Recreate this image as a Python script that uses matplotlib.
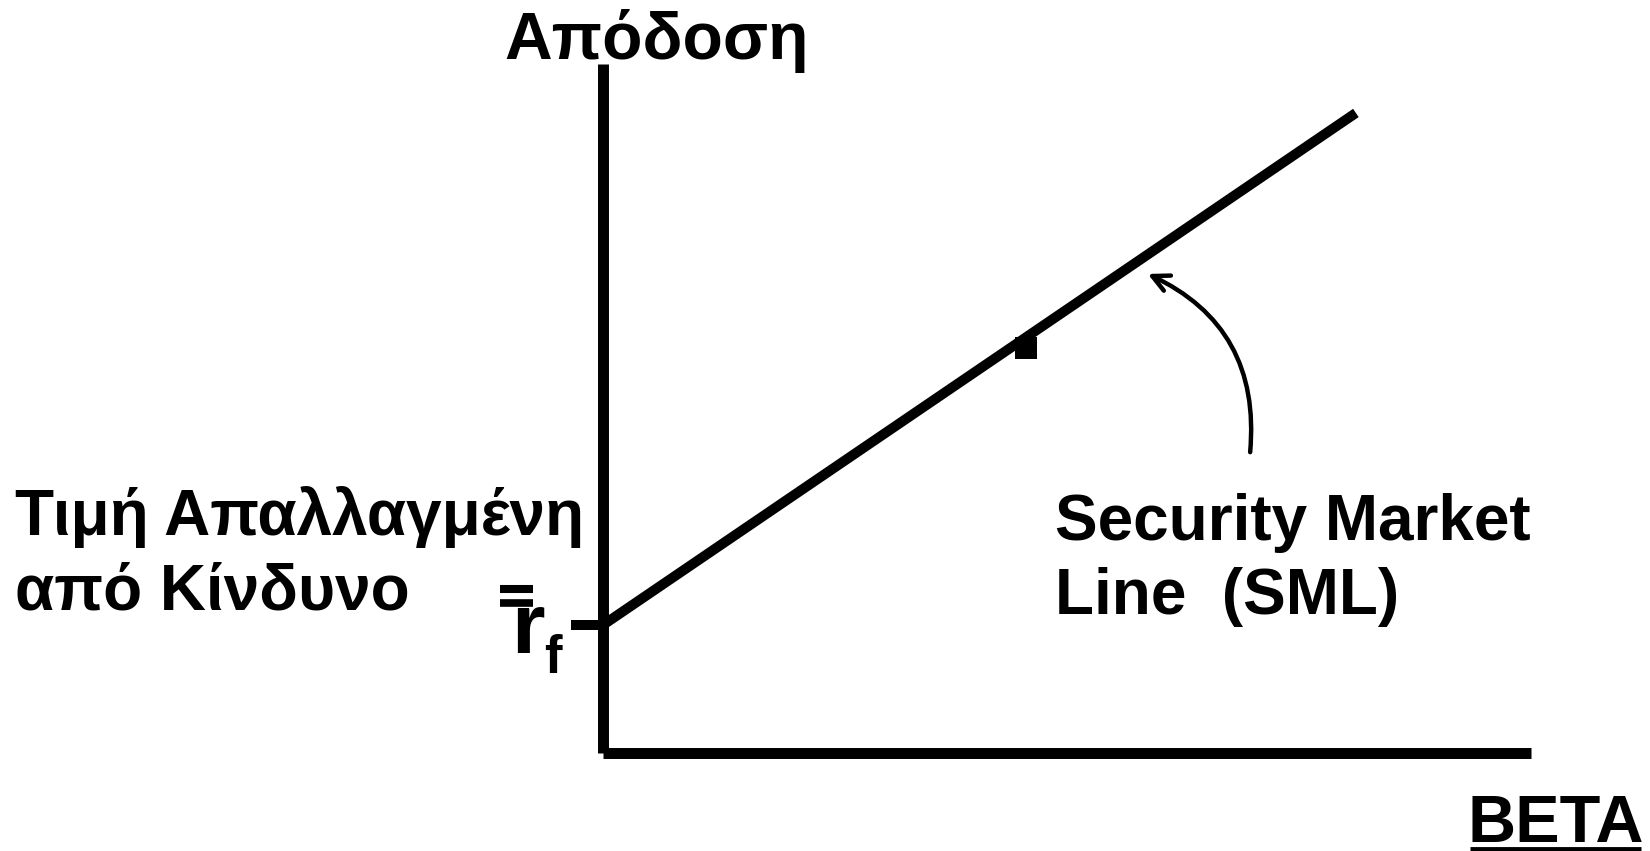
import matplotlib
matplotlib.use('Agg')
import matplotlib.pyplot as plt

plt.rcParams['font.family'] = ['Liberation Sans', 'DejaVu Sans']
plt.rcParams['font.weight'] = 'bold'

# security market line (beta, expected return in %)
sml_beta = [0.0, 1.78]
sml_return = [4.0, 20.0]
rf = 4.0
market_beta = [1.0]
market_return = [13.0]

W, H = 1650, 851
fig = plt.figure(figsize=(W / 100, H / 100), dpi=100)
ax = fig.add_axes([603 / W, 1 - 753 / H, (1531 - 603) / W, (753 - 64) / H])
ax.set_xlim(0, 2.194)
ax.set_ylim(0, 21.53)

for side in ['top', 'right']:
    ax.spines[side].set_visible(False)
for side in ['left', 'bottom']:
    ax.spines[side].set_linewidth(7.9)
    ax.spines[side].set_color('black')
    ax.spines[side].set_capstyle('butt')

ax.set_xticks([])
ax.set_yticks([rf])
ax.set_yticklabels([''])
ax.tick_params(axis='y', length=23, width=7.2, direction='out', color='black')

ax.plot(sml_beta, sml_return, color='black', lw=7.2, solid_capstyle='butt', clip_on=False, zorder=3)

# market portfolio marker, hanging under the line
sq = [(-1, 0), (1, 0), (1, -2), (-1, -2), (-1, 0)]
ax.plot(market_beta, market_return, linestyle='none', marker=sq, markersize=31,
        color='black', markeredgewidth=0, zorder=2, clip_on=False)

# arrow from label to the line
ax.annotate('', xy=(1.288, 14.97), xytext=(1.53, 9.4),
            arrowprops=dict(arrowstyle='->,head_length=0.6,head_width=0.3', lw=3.2,
                            color='black', connectionstyle='arc3,rad=0.35',
                            shrinkA=0, shrinkB=0, mutation_scale=20),
            annotation_clip=False)


def ftext(x, y, s, **kw):
    fig.text(x / W, 1 - y / H, s, fontweight='bold', va='baseline', **kw)


def fline(x0, x1, y, lw):
    fig.add_artist(plt.Line2D([x0 / W, x1 / W], [1 - y / H, 1 - y / H],
                              color='black', lw=lw, solid_capstyle='butt'))


ftext(657, 59, 'Απόδοση', ha='center', fontsize=47.5)
ftext(15, 535, 'Τιμή Απαλλαγμένη', ha='left', fontsize=46)
ftext(15, 610, 'από Κίνδυνο', ha='left', fontsize=46)
ftext(1055, 540, 'Security Market', ha='left', fontsize=46)
ftext(1055, 614, 'Line  (SML)', ha='left', fontsize=46)

# r_f with double bar
fline(500, 533, 589, 5.8)
fline(500, 533, 602.5, 5.5)
ftext(528, 653, 'r', ha='center', fontsize=62)
ftext(553, 673, 'f', ha='center', fontsize=38)

ftext(1556, 842, 'BETA', ha='center', fontsize=48)
fline(1470, 1641, 849, 3.5)

fig.savefig('out.png', dpi=100, facecolor='white')
